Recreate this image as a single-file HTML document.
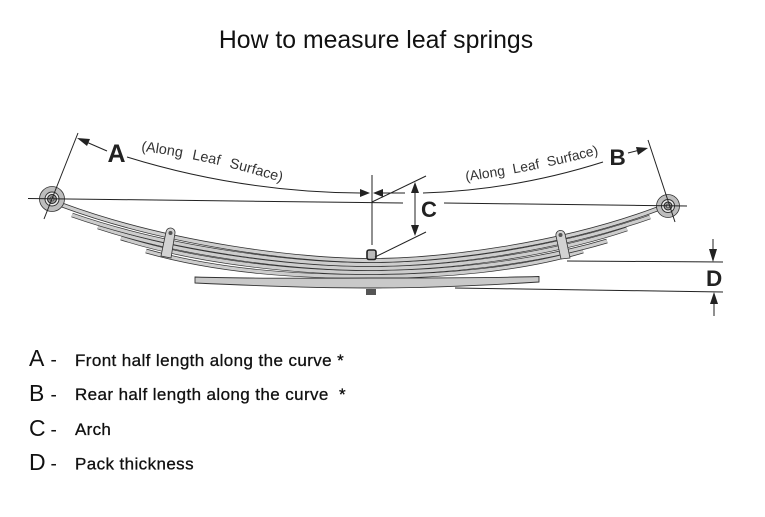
<!DOCTYPE html>
<html><head><meta charset="utf-8">
<style>
html,body{margin:0;padding:0;background:#fff;width:765px;height:517px;overflow:hidden}
svg{display:block}
text{font-family:"Liberation Sans",sans-serif}
</style></head>
<body>
<svg width="765" height="517" viewBox="0 0 765 517" xmlns="http://www.w3.org/2000/svg">
<defs>
<filter id="b" x="-5%" y="-5%" width="110%" height="110%"><feGaussianBlur stdDeviation="0.35"/></filter>
<path id="pl" d="M141 151 Q215 160 300 188"/>
<path id="pr" d="M466 181 Q535 172 615 150"/>
</defs>
<text x="376" y="48" font-size="24.800" text-anchor="middle" fill="#111">How to measure leaf springs</text>
<g filter="url(#b)">
<!-- leaves -->
<g fill="none" stroke-linecap="butt">
<path d="M146 251 C 220 272 300 276.500 370 276.500 C 440 276.500 520 270 583 251" stroke="#333" stroke-width="4.600"/>
<path d="M146 251 C 220 272 300 276.500 370 276.500 C 440 276.500 520 270 583 251" stroke="#cdcdcd" stroke-width="3.200"/>
<path d="M121 238 C 200 263 300 272.500 370 272.500 C 440 272.500 530 264 607 241" stroke="#333" stroke-width="4.600"/>
<path d="M121 238 C 200 263 300 272.500 370 272.500 C 440 272.500 530 264 607 241" stroke="#cdcdcd" stroke-width="3.200"/>
<path d="M98 227 C 190 257 300 268.500 370 268.500 C 440 268.500 540 258 627 229" stroke="#333" stroke-width="4.600"/>
<path d="M98 227 C 190 257 300 268.500 370 268.500 C 440 268.500 540 258 627 229" stroke="#cdcdcd" stroke-width="3.200"/>
<path d="M72 215 C 175 251 300 264.500 370 264.500 C 440 264.500 550 252 650 217" stroke="#333" stroke-width="4.600"/>
<path d="M72 215 C 175 251 300 264.500 370 264.500 C 440 264.500 550 252 650 217" stroke="#cdcdcd" stroke-width="3.200"/>
<path d="M62 205 C 170 245 300 260.500 370 260.500 C 440 260.500 560 246 660 208" stroke="#333" stroke-width="4.800"/>
<path d="M62 205 C 170 245 300 260.500 370 260.500 C 440 260.500 560 246 660 208" stroke="#cfcfcf" stroke-width="3.200"/>
</g>
<!-- overload leaf -->
<path d="M195 277 C 260 279 320 278 370 278 C 430 278 490 278 539 276.500 L539 282 C 490 285 430 288 370 288 C 320 288 260 286 195 283 Z" fill="#c9c9c9" stroke="#333" stroke-width="0.900"/>
<!-- clamps -->
<path d="M166 232 A4.500 4.500 0 0 1 175 233 L171 258 L161 256 Z" fill="#d2d2d2" stroke="#333" stroke-width="0.800"/>
<circle cx="170.500" cy="233" r="2" fill="#555"/>
<path d="M556 236 A4.500 4.500 0 0 1 565 234 L570 258 L561 259 Z" fill="#d2d2d2" stroke="#333" stroke-width="0.800"/>
<circle cx="560.500" cy="235" r="2" fill="#555"/>
<!-- bolts -->
<rect x="367" y="250" width="9" height="9.500" rx="2" fill="#bbb" stroke="#222" stroke-width="1.600"/>
<rect x="366" y="289" width="10" height="6" fill="#555"/>
<!-- eyes -->
<g>
<circle cx="52" cy="199" r="12.500" fill="#bdbdbd" stroke="#333" stroke-width="0.800"/>
<circle cx="52" cy="199" r="7" fill="#eee" stroke="#333" stroke-width="1"/>
<circle cx="52" cy="199" r="4.500" fill="#999" stroke="#222" stroke-width="1"/>
<circle cx="52" cy="199" r="2" fill="#ddd" stroke="#222" stroke-width="0.700"/>
<circle cx="668" cy="206" r="11.500" fill="#bdbdbd" stroke="#333" stroke-width="0.800"/>
<circle cx="668" cy="206" r="6.500" fill="#eee" stroke="#333" stroke-width="1"/>
<circle cx="668" cy="206" r="4" fill="#999" stroke="#222" stroke-width="1"/>
<circle cx="668" cy="206" r="1.800" fill="#ddd" stroke="#222" stroke-width="0.700"/>
</g>
<!-- lines -->
<g fill="none" stroke="#222" stroke-width="1">
<path d="M28 198.500 L403 203"/>
<path d="M444 203 L687 206"/>
<path d="M78 133 L44 219"/>
<path d="M648 140 L675 222"/>
<path d="M372 175 L372 245"/>
<path d="M372 202 L426 176"/>
<path d="M375 257 L426 232"/>
<path d="M107 151 L84 141"/>
<path d="M127 157 Q240 192 360 193"/>
<path d="M382 193 L405 193"/>
<path d="M423 193 Q515 190 603 162"/>
<path d="M628 153 L640 150"/>
<path d="M415 185 L415 232"/>
<path d="M567 261 L723 262"/>
<path d="M455 288 L723 292"/>
<path d="M713 239 L713 250"/>
<path d="M714 303 L714 316"/>
</g>
<!-- arrowheads -->
<g fill="#222">
<path d="M77 138 L90 139 L87 146 Z"/>
<path d="M648 148 L636 147 L638 155 Z"/>
<path d="M370 193 L360 189 L360 197 Z"/>
<path d="M373 193 L383 189 L383 197 Z"/>
<path d="M415 182 L411 193 L419 193 Z"/>
<path d="M415 236 L411 225 L419 225 Z"/>
<path d="M713 262 L709 249 L717 249 Z"/>
<path d="M714 292 L710 304 L718 304 Z"/>
</g>
</g>
<!-- diagram labels -->
<g fill="#222">
<text x="107.500" y="162" font-size="25" font-weight="bold">A</text>
<text x="609.500" y="165" font-size="22.500" font-weight="bold">B</text>
<text x="421" y="217" font-size="22" font-weight="bold">C</text>
<text x="706" y="286" font-size="22.500" font-weight="bold">D</text>
<text font-size="14.400" fill="#333" word-spacing="6"><textPath href="#pl">(Along Leaf Surface)</textPath></text>
<text font-size="13.800" fill="#333" word-spacing="4.500"><textPath href="#pr">(Along Leaf Surface)</textPath></text>
</g>
<!-- legend -->
<g fill="#111">
<text x="29" y="366" font-size="23">A</text><text x="50.500" y="366" font-size="19">-</text>
<text x="75" y="366" font-size="17" letter-spacing="0.400" stroke="#111" stroke-width="0.300">Front half length along the curve *</text>
<text x="29" y="401" font-size="23">B</text><text x="50.500" y="401" font-size="19">-</text>
<text x="75" y="400" font-size="17" letter-spacing="0.400" stroke="#111" stroke-width="0.300" xml:space="preserve">Rear half length along the curve  *</text>
<text x="29" y="436" font-size="23">C</text><text x="50.500" y="436" font-size="19">-</text>
<text x="75" y="435" font-size="17" letter-spacing="0.300" stroke="#111" stroke-width="0.300">Arch</text>
<text x="29" y="470" font-size="23">D</text><text x="50.500" y="470" font-size="19">-</text>
<text x="75" y="469.500" font-size="17" letter-spacing="0.400" stroke="#111" stroke-width="0.300">Pack thickness</text>
</g>
</svg>
</body></html>
